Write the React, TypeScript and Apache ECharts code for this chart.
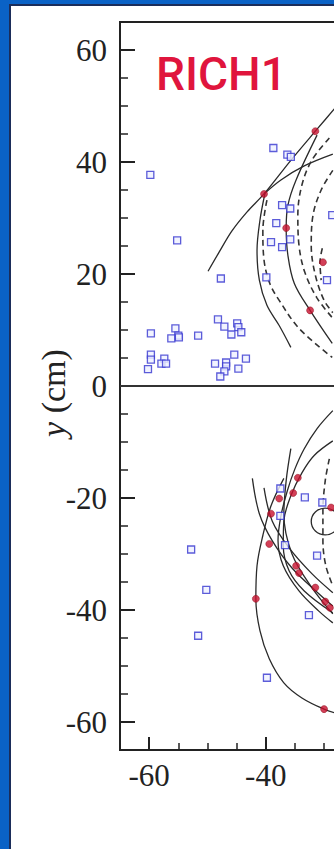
import React, { useEffect, useRef } from "react";
import * as echarts from "echarts";

// ---- data (cm) ----
const xMajorTicks = [-60, -40, -20, 0, 20, 40, 60];
const xTickLabels = [-60, -40];
const yMajorTicks = [-60, -40, -20, 0, 20, 40, 60];

const blueHits: [number, number][] = [
  [-59.8, 37.7], [-55.2, 26.0], [-38.7, 42.5], [-36.3, 41.3], [-35.7, 40.9],
  [-47.7, 19.2], [-39.9, 19.4], [-37.2, 32.3], [-35.8, 31.7], [-38.2, 29.1],
  [-39.1, 25.7], [-37.2, 24.8], [-35.8, 26.2], [-29.5, 18.9], [-28.6, 30.5],
  [-59.7, 9.4], [-55.5, 10.3], [-55.0, 9.0], [-56.2, 8.5], [-54.9, 8.7],
  [-51.6, 9.0], [-48.2, 11.9], [-47.1, 10.6], [-44.9, 11.2], [-44.7, 10.5],
  [-45.9, 9.2], [-44.2, 9.6], [-59.7, 5.6], [-59.7, 4.7], [-57.4, 4.9],
  [-57.9, 4.0], [-57.1, 4.0], [-60.2, 3.0], [-48.7, 4.0], [-46.8, 4.2],
  [-46.8, 3.5], [-47.1, 2.6], [-47.8, 1.7], [-45.4, 5.6], [-43.4, 4.9],
  [-44.7, 3.1],
  [-37.5, -18.3], [-37.5, -23.2], [-33.3, -19.9], [-30.3, -20.8], [-36.7, -28.4],
  [-31.2, -30.3], [-52.8, -29.2], [-50.2, -36.4], [-51.6, -44.6], [-32.6, -40.9],
  [-39.8, -52.1],
];

const redHits: [number, number][] = [
  [-31.5, 45.5], [-40.3, 34.3], [-36.5, 28.2], [-30.2, 22.1], [-32.4, 13.5],
  [-34.5, -16.4], [-35.3, -19.1], [-37.7, -20.1], [-39.1, -22.8], [-39.4, -28.2],
  [-41.7, -38.0], [-30.0, -57.7], [-28.8, -21.7], [-34.8, -32.1], [-34.3, -33.4],
  [-31.5, -36.0], [-29.8, -38.5], [-29.0, -39.6],
];

const arcA: [number, number][] = [[-49.9, 20.5], [-48.0, 23.9], [-45.8, 27.7], [-43.2, 31.1], [-40.3, 34.3], [-35.7, 40.3], [-31.5, 45.5], [-27.4, 50.5]];
const arcB: [number, number][] = [[-40.3, 34.3], [-37.4, 36.8], [-33.4, 39.3], [-28.5, 41.4]];
const arcC: [number, number][] = [[-31.2, 44.8], [-34.8, 36.8], [-36.2, 32.3], [-36.5, 28.2], [-36.2, 23.3], [-35.1, 18.3], [-32.4, 13.5], [-28.6, 7.6]];
const arcD: [number, number][] = [[-40.1, 34.6], [-41.0, 29.6], [-41.5, 24.2], [-41.1, 18.9], [-39.8, 14.4], [-37.7, 10.8], [-35.7, 6.9]];
const arcM1: [number, number][] = [[-28.5, -4.4], [-31.2, -7.6], [-33.4, -11.2], [-35.0, -14.8], [-36.3, -18.7], [-37.4, -23.2], [-37.9, -27.6], [-37.0, -32.1], [-34.3, -36.6], [-30.9, -40.2], [-28.5, -42.3]];
const arcM2: [number, number][] = [[-28.5, -9.8], [-31.7, -12.4], [-33.8, -15.5], [-35.7, -19.6], [-36.9, -24.1], [-37.0, -28.5], [-36.0, -33.0], [-33.4, -36.6], [-28.5, -40.5]];
const arcLa: [number, number][] = [[-35.7, -11.2], [-36.5, -16.9], [-36.9, -22.8], [-35.5, -30.0], [-32.1, -36.0], [-28.5, -40.7]];
const arcLb: [number, number][] = [[-42.3, -16.5], [-41.1, -22.8], [-38.9, -27.6], [-35.5, -32.5], [-30.9, -37.1], [-28.5, -39.3]];
const arcLc: [number, number][] = [[-40.3, -18.2], [-38.9, -24.1], [-36.0, -28.9], [-32.1, -33.5], [-28.5, -36.9]];
const arcLd: [number, number][] = [[-36.9, -16.5], [-39.1, -21.4], [-40.5, -26.7], [-41.5, -32.1], [-41.7, -38.0], [-41.0, -43.7], [-39.4, -48.7], [-36.9, -53.0], [-33.8, -55.7], [-30.0, -57.7], [-27.4, -58.6]];

const arcE: [number, number][] = [[-39.8, 33.2], [-40.5, 27.8], [-40.3, 22.5], [-39.3, 18.3], [-37.7, 15.3], [-34.3, 10.3], [-28.6, 5.1]];
const arcF: [number, number][] = [[-29.1, 44.3], [-32.1, 40.3], [-33.8, 35.9], [-34.5, 30.5], [-34.3, 25.1], [-33.3, 20.3], [-31.2, 15.7], [-28.5, 12.1]];
const arcG: [number, number][] = [[-28.5, 38.5], [-30.5, 35.0], [-31.9, 30.5], [-32.2, 25.1], [-31.5, 19.8], [-30.0, 15.3], [-28.5, 13.1]];
const arcH: [number, number][] = [[-30.3, 24.6], [-30.7, 22.1], [-30.5, 18.9]];
const arcLe: [number, number][] = [[-29.1, -13.0], [-29.8, -16.9], [-30.2, -22.3], [-30.2, -27.6], [-29.7, -32.1], [-28.5, -35.7]];

const solidArcs = [arcA, arcB, arcC, arcD, arcM1, arcM2, arcLa, arcLb, arcLc, arcLd];
const dashedArcs = [arcE, arcF, arcG, arcH, arcLe];
const smallRings: [number, number, number][] = [[-29.8, -24.2, 2.4]];

const SERIF = "'Liberation Serif', 'Times New Roman', serif";

export default function App() {
  const ref = useRef<HTMLDivElement>(null);
  useEffect(() => {
    if (!ref.current) return;
    const chart = echarts.init(ref.current, null, { renderer: "svg" });
    const lineSeries: any[] = [];
    solidArcs.forEach((arc) =>
      lineSeries.push({
        type: "line",
        data: arc,
        smooth: 0.35,
        showSymbol: false,
        silent: true,
        z: 2,
        lineStyle: { color: "#2a2a2a", width: 1.3, type: "solid" },
      })
    );
    dashedArcs.forEach((arc) =>
      lineSeries.push({
        type: "line",
        data: arc,
        smooth: 0.35,
        showSymbol: false,
        silent: true,
        z: 2,
        lineStyle: { color: "#333", width: 1.6, type: [6, 4] },
      })
    );
    chart.setOption({
      animation: false,
      backgroundColor: "transparent",
      grid: {
        left: 120,
        top: 22,
        width: 758,
        height: 728,
        show: true,
        borderColor: "#222",
        borderWidth: 2,
        outerBoundsMode: "none",
        containLabel: false,
      },
      xAxis: [
        {
          type: "value",
          min: -65,
          max: 65,
          position: "bottom",
          axisLine: { show: false, onZero: false },
          splitLine: { show: false },
          axisTick: { show: true, inside: true, length: 13, customValues: xMajorTicks, lineStyle: { color: "#222", width: 2 } },
          axisLabel: { customValues: xTickLabels, margin: 10, fontFamily: SERIF, fontSize: 31, color: "#222" },
        },
        {
          type: "value",
          min: -65,
          max: 65,
          interval: 5,
          position: "bottom",
          axisLine: { show: false, onZero: false },
          splitLine: { show: false },
          axisTick: { show: true, inside: true, length: 7, lineStyle: { color: "#222", width: 1.5 } },
          axisLabel: { show: false },
        },
      ],
      yAxis: [
        {
          type: "value",
          min: -65,
          max: 65,
          position: "left",
          axisLine: { show: false, onZero: false },
          splitLine: { show: false },
          axisTick: { show: true, inside: true, length: 15, customValues: yMajorTicks, lineStyle: { color: "#222", width: 2 } },
          axisLabel: { customValues: yMajorTicks, margin: 13, fontFamily: SERIF, fontSize: 31, color: "#222" },
          name: "{i|y} (cm)",
          nameLocation: "middle",
          nameGap: 50,
          nameMoveOverlap: false,
          nameTextStyle: {
            fontFamily: SERIF,
            fontSize: 34,
            color: "#222",
            padding: [0, 14, 0, 0],
            rich: { i: { fontFamily: SERIF, fontSize: 34, fontStyle: "italic", color: "#222" } },
          },
        },
        {
          type: "value",
          min: -65,
          max: 65,
          interval: 5,
          position: "left",
          axisLine: { show: false, onZero: false },
          splitLine: { show: false },
          axisTick: { show: true, inside: true, length: 8, lineStyle: { color: "#222", width: 1.5 } },
          axisLabel: { show: false },
        },
      ],
      graphic: [
        {
          type: "text",
          left: 156,
          top: 51,
          style: { text: "RICH1", fill: "#e0153d", font: "500 46px Roboto" },
        },
      ],
      series: [
        ...lineSeries,
        {
          type: "line",
          data: [],
          silent: true,
          markLine: {
            silent: true,
            symbol: ["none", "none"],
            label: { show: false },
            lineStyle: { color: "#333", width: 2, type: "solid" },
            data: [{ yAxis: 0 }],
          },
        },
        {
          type: "custom",
          data: smallRings,
          silent: true,
          z: 2,
          renderItem: (params: any, api: any) => {
            const c = api.coord([api.value(0), api.value(1)]);
            const s = api.size([api.value(2), api.value(2)]);
            return {
              type: "ellipse",
              shape: { cx: c[0], cy: c[1], rx: s[0], ry: s[1] },
              style: { fill: "none", stroke: "#2a2a2a", lineWidth: 1.3 },
            };
          },
        },
        {
          type: "scatter",
          data: blueHits,
          symbol: "rect",
          symbolSize: 7,
          silent: true,
          z: 4,
          itemStyle: { color: "#eef0ff", borderColor: "#3434d0", borderWidth: 1.3 },
        },
        {
          type: "scatter",
          data: redHits,
          symbol: "circle",
          symbolSize: 7,
          silent: true,
          z: 5,
          itemStyle: { color: "#c8102e", borderColor: "#8a0a1a", borderWidth: 0.6 },
        },
      ],
    });
    return () => chart.dispose();
  }, []);

  return (
    <div style={{ position: "absolute", left: 0, top: 0, width: 334, height: 849, background: "#0a62c6", overflow: "hidden" }}>
      <div
        style={{
          position: "absolute",
          left: 9,
          top: 4,
          width: 340,
          height: 860,
          background: "#ffffff",
          borderLeft: "2px solid #1b2d5a",
          borderTop: "2px solid #1b2d5a",
        }}
      />
      <div ref={ref} style={{ position: "absolute", left: 0, top: 0, width: 334, height: 849 }} />
    </div>
  );
}
